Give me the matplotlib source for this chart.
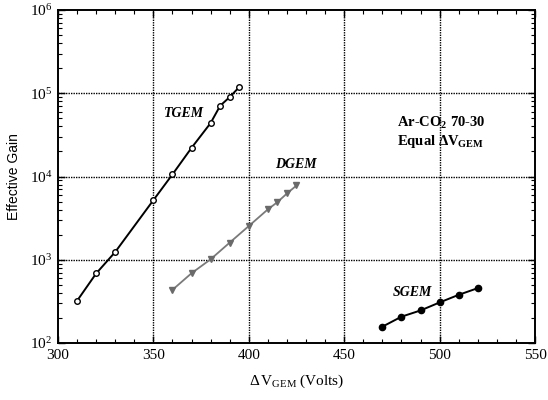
import matplotlib
matplotlib.use("Agg")
import matplotlib.pyplot as plt
from matplotlib.ticker import FixedLocator, LogLocator, NullFormatter, MultipleLocator

plt.rcParams['font.family'] = ['Liberation Serif', 'DejaVu Serif']
plt.rcParams['mathtext.fontset'] = 'custom'
plt.rcParams['mathtext.rm'] = 'Liberation Serif'
plt.rcParams['mathtext.it'] = 'Liberation Serif:italic'
plt.rcParams['mathtext.bf'] = 'Liberation Serif:bold'

# Gain curves for triple, double and single GEM configurations
tgem_v = [310, 320, 330, 350, 360, 370, 380, 385, 390, 395]
tgem_gain = [321, 684, 1240, 5200, 10600, 22100, 43900, 70800, 90000, 118600]

dgem_v = [360, 370, 380, 390, 400, 410, 415, 420, 425]
dgem_gain = [435, 689, 1013, 1607, 2540, 4030, 4920, 6250, 7800]

sgem_v = [470, 480, 490, 500, 510, 520]
sgem_gain = [157, 207, 246, 307, 379, 456]

x_ticks = [300, 350, 400, 450, 500, 550]
y_ticks = [1e2, 1e3, 1e4, 1e5, 1e6]
y_tick_labels = [r'$10^{2}$', r'$10^{3}$', r'$10^{4}$', r'$10^{5}$', r'$10^{6}$']

fig = plt.figure(figsize=(5.48, 4.0), dpi=100)
ax = fig.add_axes([0.1058, 0.1425, 0.8705, 0.8325])

ax.set_yscale('log')
ax.set_xlim(300, 550)
ax.set_ylim(1e2, 1e6)

ax.plot(tgem_v, tgem_gain, color='black', lw=1.4, marker='o', ms=4,
        mfc='white', mec='black', mew=1.0, zorder=3)
ax.plot(dgem_v, dgem_gain, color='#7a7a7a', lw=1.3, marker='v', ms=4,
        mfc='#6a6a6a', mec='#6a6a6a', zorder=3)
ax.plot(sgem_v, sgem_gain, color='black', lw=1.4, marker='o', ms=4.5,
        mfc='black', mec='black', zorder=3)

ax.xaxis.set_major_locator(FixedLocator(x_ticks))
ax.xaxis.set_minor_locator(MultipleLocator(10))
ax.set_yticks(y_ticks)
ax.set_yticklabels(y_tick_labels)
ax.yaxis.set_minor_locator(LogLocator(base=10, subs=range(2, 10)))
ax.yaxis.set_minor_formatter(NullFormatter())

ax.tick_params(which='both', direction='in', top=True, right=True,
               labelsize=11, pad=4, color='black')
ax.tick_params(which='major', length=5, width=1)
ax.tick_params(which='minor', length=3, width=0.8)

for v in [350, 400, 450, 500]:
    ax.axvline(v, color='black', ls=(0, (1, 0.8)), lw=1.0, zorder=1)
for g in [1e3, 1e4, 1e5]:
    ax.axhline(g, color='black', ls=(0, (1, 0.8)), lw=1.0, zorder=1)

for s in ax.spines.values():
    s.set_linewidth(1.4)

ax.set_xlabel(r'$\Delta\,$V$_{\mathrm{GEM}}$ (Volts)', fontsize=11, labelpad=8)
ax.set_ylabel('Effective Gain', fontsize=10, family=['Liberation Sans', 'DejaVu Sans'],
              labelpad=6)

ax.text(366, 5.7e4, 'TGEM', fontsize=10, style='italic', weight='bold',
        ha='center', va='center')
ax.text(424.7, 1.39e4, 'DGEM', fontsize=10, style='italic', weight='bold',
        ha='center', va='center')
ax.text(485.5, 408, 'SGEM', fontsize=10, style='italic', weight='bold',
        ha='center', va='center')
ax.text(477.5, 10**4.647, r'Ar-CO$_{\mathbf{2}}$ 70-30', fontsize=10.5, weight='bold',
        ha='left', va='center')
ax.text(477.5, 10**4.42, r'Equal $\mathbf{\Delta}$V$_{\mathbf{GEM}}$', fontsize=10.5,
        weight='bold', ha='left', va='center')

fig.savefig('out.png', dpi=100)
